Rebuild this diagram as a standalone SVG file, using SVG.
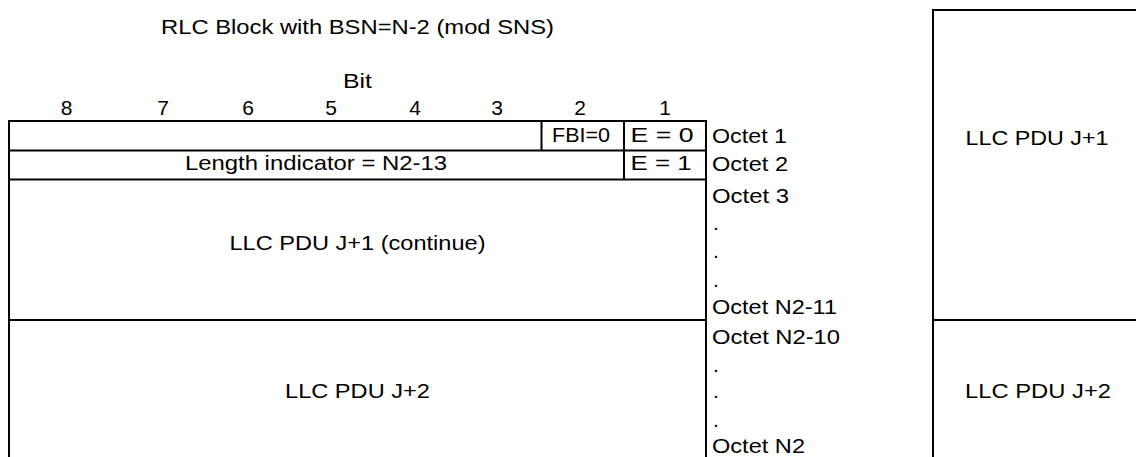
<svg xmlns="http://www.w3.org/2000/svg" width="1136" height="457" viewBox="0 0 1136 457">
<style>
text{font-family:"Liberation Sans",Arial,sans-serif;font-size:21px;fill:#000}
.c{text-anchor:middle}
.ln{stroke:#000;stroke-width:2;fill:none}
</style>
<rect width="1136" height="457" fill="#fff"/>
<g id="header">
<text class="c" x="357.5" y="34" textLength="393" lengthAdjust="spacingAndGlyphs">RLC Block with BSN=N-2 (mod SNS)</text>
<text class="c" x="357.5" y="88" textLength="29" lengthAdjust="spacingAndGlyphs">Bit</text>
<text class="c" x="66.5" y="115">8</text>
<text class="c" x="163" y="115">7</text>
<text class="c" x="248" y="115">6</text>
<text class="c" x="331" y="115">5</text>
<text class="c" x="415" y="115">4</text>
<text class="c" x="497" y="115">3</text>
<text class="c" x="580" y="115">2</text>
<text class="c" x="665" y="115">1</text>
</g>
<g id="connectors">
<path class="ln" d="M9,121H706M9,150.5H706M9,179.5H706M9,320H706M9,120V457M706,120V457M541.5,121V150.5M624,121V179.5"/>
<path class="ln" d="M933,10H1137M933,9V457M933,320H1137"/>
</g>
<g id="octet1">
<text class="c" x="581" y="142" textLength="58" lengthAdjust="spacingAndGlyphs">FBI=0</text>
<text class="c" x="662" y="142" textLength="63" lengthAdjust="spacingAndGlyphs">E = 0</text>
</g>
<g id="octet2">
<text class="c" x="316" y="170" textLength="262" lengthAdjust="spacingAndGlyphs">Length indicator = N2-13</text>
<text class="c" x="661" y="170" textLength="61" lengthAdjust="spacingAndGlyphs">E = 1</text>
</g>
<g id="llc-j1-continue">
<text class="c" x="357.5" y="250" textLength="256" lengthAdjust="spacingAndGlyphs">LLC PDU J+1 (continue)</text>
</g>
<g id="llc-j2">
<text class="c" x="357.5" y="398" textLength="145" lengthAdjust="spacingAndGlyphs">LLC PDU J+2</text>
</g>
<g id="octet-labels">
<text x="712" y="143" textLength="75" lengthAdjust="spacingAndGlyphs">Octet 1</text>
<text x="712" y="171" textLength="76" lengthAdjust="spacingAndGlyphs">Octet 2</text>
<text x="712" y="203" textLength="77" lengthAdjust="spacingAndGlyphs">Octet 3</text>
<text x="713" y="230">.</text>
<text x="713" y="258">.</text>
<text x="713" y="287">.</text>
<text x="712" y="314" textLength="125" lengthAdjust="spacingAndGlyphs">Octet N2-11</text>
<text x="712" y="344" textLength="128" lengthAdjust="spacingAndGlyphs">Octet N2-10</text>
<text x="713" y="372">.</text>
<text x="713" y="398">.</text>
<text x="713" y="427">.</text>
<text x="712" y="453" textLength="93" lengthAdjust="spacingAndGlyphs">Octet N2</text>
</g>
<g id="right-j1">
<text class="c" x="1037" y="145" textLength="143" lengthAdjust="spacingAndGlyphs">LLC PDU J+1</text>
</g>
<g id="right-j2">
<text class="c" x="1038" y="398" textLength="146" lengthAdjust="spacingAndGlyphs">LLC PDU J+2</text>
</g>
</svg>
